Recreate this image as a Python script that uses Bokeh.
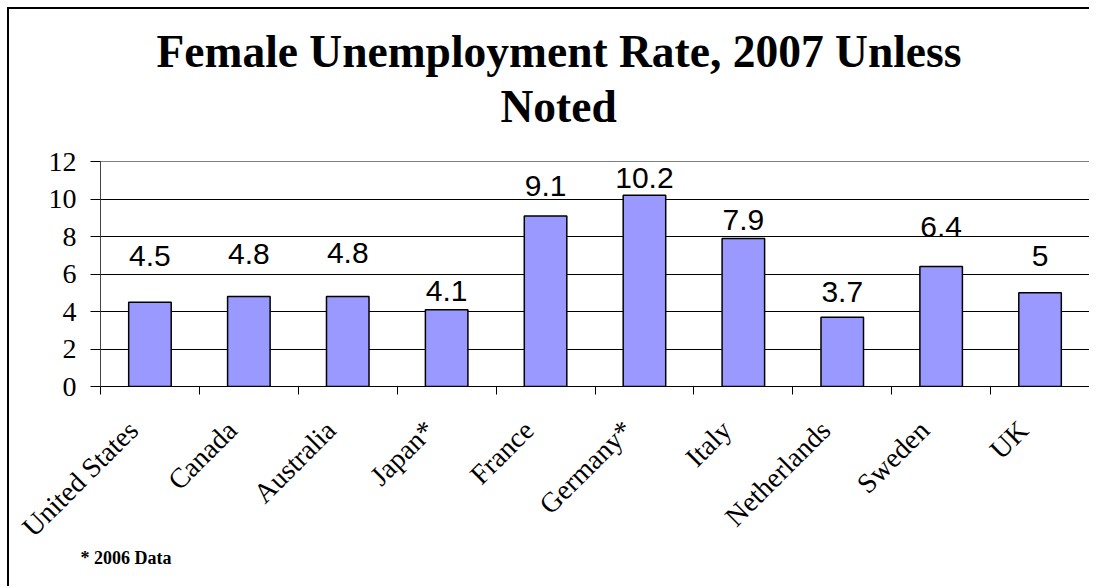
import math
from bokeh.plotting import figure
from bokeh.models import Range1d, FixedTicker, Title
from bokeh.core.properties import value
from bokeh.embed import file_html
from bokeh.resources import INLINE

# ---- data ----
countries = ["United States", "Canada", "Australia", "Japan*", "France",
             "Germany*", "Italy", "Netherlands", "Sweden", "UK"]
rates = [4.5, 4.8, 4.8, 4.1, 9.1, 10.2, 7.9, 3.7, 6.4, 5.0]
rate_labels = ["4.5", "4.8", "4.8", "4.1", "9.1", "10.2", "7.9", "3.7", "6.4", "5"]
y_ticks = [0, 2, 4, 6, 8, 10, 12]
title_line1 = "Female Unemployment Rate, 2007 Unless"
title_line2 = "Noted"
footnote = "* 2006 Data"

# style: gap (px) between bar top and the centre of its value label
label_gap_px = [46, 43, 44, 19, 30, 17, 18, 25, 40, 37]
# style: leftward shift of category labels (fraction of a category)
label_shift = 0.17

n = len(countries)
centers = [i + 0.5 for i in range(n)]
boundaries = list(range(n + 1))
label_pos = [c - label_shift for c in centers]

p = figure(width=1082, height=579, output_backend="svg", toolbar_location=None,
           x_range=Range1d(0, n), y_range=Range1d(0, 12), title=None,
           min_border_left=91, min_border_right=2, min_border_top=152,
           min_border_bottom=202, background_fill_color="white",
           border_fill_color="white")
p.styles = {"border-left": "2px solid black", "border-top": "2px solid black",
            "margin-left": "7px", "margin-top": "7px"}

p.outline_line_color = "#808080"
p.outline_line_width = 1

# bars
p.vbar(x=centers, top=rates, width=0.43, fill_color="#9999FF",
       line_color="black", line_width=1.5)

# value labels
p.text(x=centers, y=rates, text=rate_labels,
       y_offset=[-g for g in label_gap_px],
       text_align="center", text_baseline="middle",
       text_font=value("Liberation Sans"), text_font_size=value("30px"),
       text_color="black")

# x axis
xa = p.xaxis[0]
xa.ticker = FixedTicker(ticks=label_pos, minor_ticks=boundaries)
xa.major_label_overrides = {c: name for c, name in zip(label_pos, countries)}
xa.major_label_orientation = math.pi / 4
xa.major_tick_line_color = None
xa.minor_tick_line_color = "black"
xa.minor_tick_out = 8
xa.minor_tick_in = 0
xa.axis_line_color = "black"
xa.major_label_text_font = "Liberation Serif"
xa.major_label_text_font_size = "28px"
xa.major_label_text_color = "black"
xa.major_label_standoff = 31

# y axis
ya = p.yaxis[0]
ya.ticker = FixedTicker(ticks=y_ticks)
ya.major_tick_out = 10
ya.major_tick_in = 0
ya.minor_tick_line_color = None
ya.major_tick_line_color = "black"
ya.axis_line_color = "#444444"
ya.major_label_text_font = "Liberation Serif"
ya.major_label_text_font_size = "28px"
ya.major_label_text_color = "black"
ya.major_label_standoff = 14

# grid
p.xgrid.visible = False
p.ygrid.ticker = FixedTicker(ticks=y_ticks)
p.ygrid.grid_line_color = "black"
p.ygrid.grid_line_width = 1

# titles (a thin spacer keeps the two title lines clear of the plot)
spacer = Title(text=" ", text_font_size="1px", standoff=25)
t2 = Title(text=title_line2, align="left", text_font="Liberation Serif",
           text_font_size="45.5px", text_font_style="bold", text_color="black",
           standoff=4, offset=400)
t1 = Title(text=title_line1, align="left", text_font="Liberation Serif",
           text_font_size="45.5px", text_font_style="bold", text_color="black",
           standoff=0, offset=56)
p.add_layout(spacer, "above")
p.add_layout(t2, "above")
p.add_layout(t1, "above")

fn = Title(text=footnote, align="left", text_font="Liberation Serif",
           text_font_size="18px", text_font_style="bold", text_color="black",
           offset=-20, standoff=-22)
p.add_layout(fn, "below")

open("out.html", "w").write(file_html(p, INLINE))
